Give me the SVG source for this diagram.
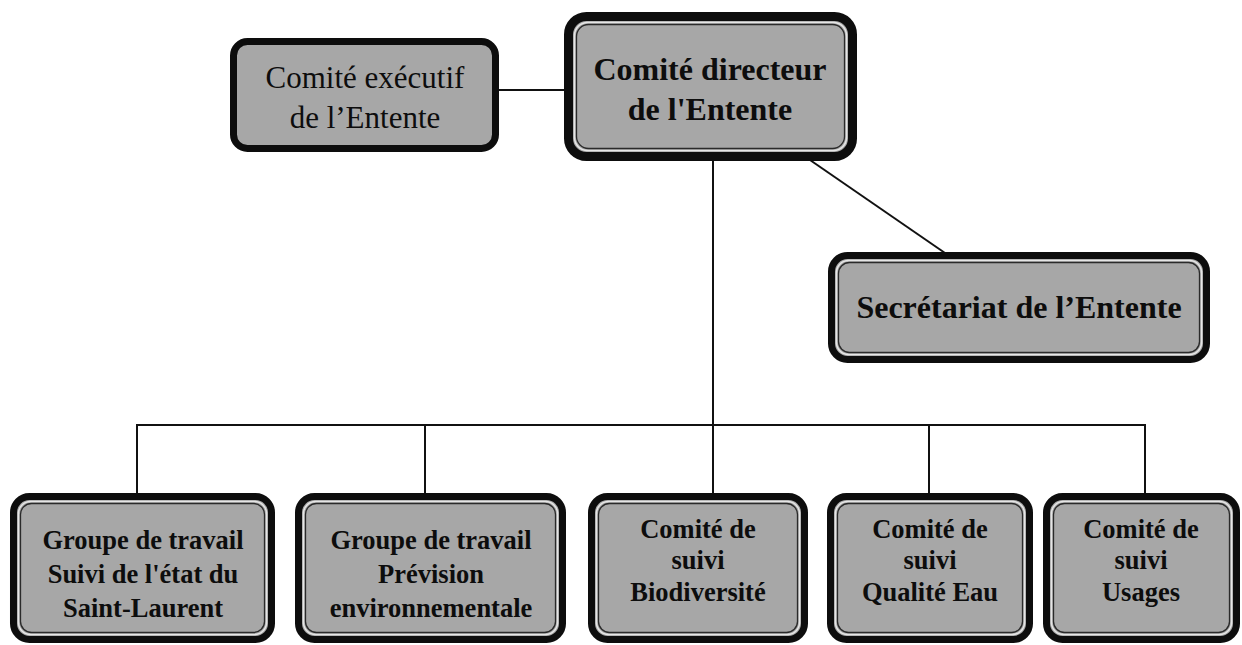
<svg xmlns="http://www.w3.org/2000/svg" width="1242" height="645" viewBox="0 0 1242 645">
<style>
.box{fill:#a7a7a7;stroke:#0d0d0d;stroke-width:7}
.hi{fill:none;stroke:#e6e6e6;stroke-width:1.5}
.in{fill:none;stroke:#2a2a2a;stroke-width:1.3}
.conn{fill:none;stroke:#111;stroke-width:2}
.t{font-family:"Liberation Serif","Times New Roman",serif;fill:#0d0d0d;text-anchor:middle}
.b{font-weight:bold}
.s{font-size:26.5px}
</style>
<rect width="1242" height="645" fill="#fff"/>
<g id="connectors">
<line class="conn" x1="499" y1="90" x2="565" y2="90"/>
<line class="conn" x1="810" y1="160" x2="945" y2="253"/>
<line class="conn" x1="713" y1="158" x2="713" y2="494"/>
<line class="conn" x1="137" y1="425" x2="1145" y2="425"/>
<line class="conn" x1="137" y1="424" x2="137" y2="494"/>
<line class="conn" x1="425" y1="424" x2="425" y2="494"/>
<line class="conn" x1="929" y1="424" x2="929" y2="494"/>
<line class="conn" x1="1145" y1="424" x2="1145" y2="494"/>
</g>
<g id="executif">
<rect class="box" x="233.5" y="41.5" width="262" height="107" rx="14"/>
<text class="t" x="365" y="88" font-size="31">Comité exécutif</text>
<text class="t" x="365" y="128" font-size="31">de l’Entente</text>
</g>
<g id="directeur">
<rect class="box" x="568.5" y="16.5" width="284" height="140" rx="18" style="stroke-width:9"/>
<rect class="hi" x="574.5" y="22.5" width="272" height="128" rx="13"/>
<rect class="in" x="576.5" y="24.5" width="268" height="124" rx="12"/>
<text class="t b" x="710" y="80" font-size="32">Comité directeur</text>
<text class="t b" x="710" y="120" font-size="32">de l'Entente</text>
</g>
<g id="secretariat">
<rect class="box" x="831.5" y="255.5" width="375" height="104" rx="16"/>
<rect class="hi" x="836.5" y="260.5" width="365" height="94" rx="12"/>
<rect class="in" x="838.5" y="262.5" width="361" height="90" rx="11"/>
<text class="t b" x="1019" y="318" font-size="32">Secrétariat de l’Entente</text>
</g>
<g id="groupe-suivi">
<rect class="box" x="13.5" y="496.5" width="258" height="143" rx="16"/>
<rect class="hi" x="18.5" y="501.5" width="248" height="133" rx="12"/>
<rect class="in" x="20.5" y="503.5" width="244" height="129" rx="11"/>
<text class="t b s" x="143" y="549">Groupe de travail</text>
<text class="t b s" x="143" y="583">Suivi de l'état du</text>
<text class="t b s" x="143" y="617">Saint-Laurent</text>
</g>
<g id="groupe-prevision">
<rect class="box" x="298.5" y="496.5" width="264" height="143" rx="16"/>
<rect class="hi" x="303.5" y="501.5" width="254" height="133" rx="12"/>
<rect class="in" x="305.5" y="503.5" width="250" height="129" rx="11"/>
<text class="t b s" x="431" y="549">Groupe de travail</text>
<text class="t b s" x="431" y="583">Prévision</text>
<text class="t b s" x="431" y="617">environnementale</text>
</g>
<g id="comite-biodiversite">
<rect class="box" x="591.5" y="496.5" width="213" height="143" rx="16"/>
<rect class="hi" x="596.5" y="501.5" width="203" height="133" rx="12"/>
<rect class="in" x="598.5" y="503.5" width="199" height="129" rx="11"/>
<text class="t b s" x="698" y="538">Comité de</text>
<text class="t b s" x="698" y="569">suivi</text>
<text class="t b s" x="698" y="601">Biodiversité</text>
</g>
<g id="comite-qualite">
<rect class="box" x="830.5" y="496.5" width="199" height="143" rx="16"/>
<rect class="hi" x="835.5" y="501.5" width="189" height="133" rx="12"/>
<rect class="in" x="837.5" y="503.5" width="185" height="129" rx="11"/>
<text class="t b s" x="930" y="538">Comité de</text>
<text class="t b s" x="930" y="569">suivi</text>
<text class="t b s" x="930" y="601">Qualité Eau</text>
</g>
<g id="comite-usages">
<rect class="box" x="1046.5" y="496.5" width="190" height="143" rx="16"/>
<rect class="hi" x="1051.5" y="501.5" width="180" height="133" rx="12"/>
<rect class="in" x="1053.5" y="503.5" width="176" height="129" rx="11"/>
<text class="t b s" x="1141" y="538">Comité de</text>
<text class="t b s" x="1141" y="569">suivi</text>
<text class="t b s" x="1141" y="601">Usages</text>
</g>
</svg>
